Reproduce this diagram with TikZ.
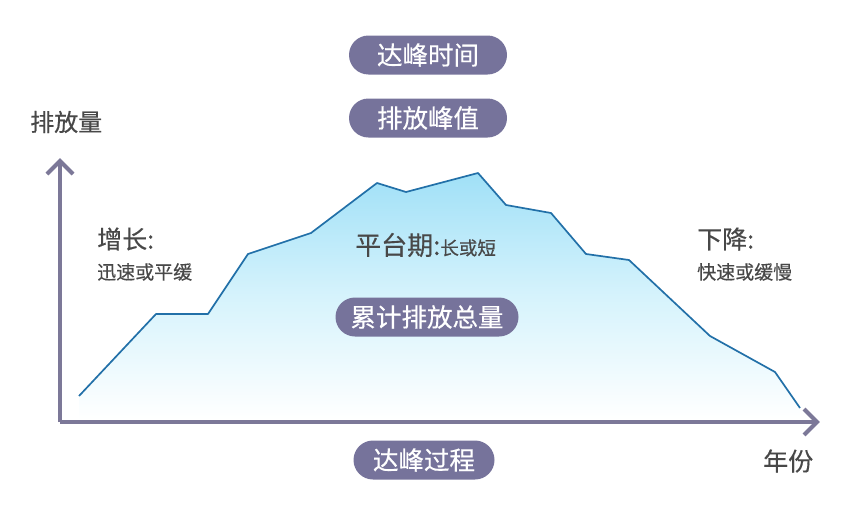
\documentclass[tikz,border=0pt]{standalone}
\usepackage{fontspec}
\setmainfont{Noto Sans CJK SC}[FakeBold=0.4]
\definecolor{pillc}{RGB}{118,115,155}
\definecolor{axisc}{RGB}{124,120,152}
\definecolor{txtc}{RGB}{72,72,72}
\definecolor{linec}{RGB}{34,112,168}
\definecolor{topc}{RGB}{160,224,247}
\definecolor{midc}{RGB}{214,243,252}
\begin{document}
\begin{tikzpicture}[x=1pt,y=-1pt,
  pill/.style={fill=pillc,text=white,rounded corners=19.5pt,minimum height=39pt,inner sep=0pt,font=\fontsize{25.5}{25.5}\selectfont},
  big/.style={text=txtc,inner sep=0pt,anchor=west,font=\fontsize{25}{25}\selectfont},
  small/.style={text=txtc,inner sep=0pt,anchor=west,font=\fontsize{19}{19}\selectfont},
  axisline/.style={draw=axisc,line width=4pt}]
\useasboundingbox (0,0) rectangle (843,525);
% area
\shade[top color=topc,bottom color=white,middle color=midc,draw=none]
  (79,396) -- (156,314) -- (208,314) -- (248,254) -- (311,233) -- (377,183) -- (406,192) -- (478,173) -- (506,205) -- (551,213) -- (586,254) -- (629,260) -- (710,336) -- (775,372) -- (800,408) -- (800,420) -- (79,420) -- cycle;
\draw[linec,line width=1.7pt,line join=round]
  (79,396) -- (156,314) -- (208,314) -- (248,254) -- (311,233) -- (377,183) -- (406,192) -- (478,173) -- (506,205) -- (551,213) -- (586,254) -- (629,260) -- (710,336) -- (775,372) -- (800,408);
% axes
\coordinate (o) at (60,422);
\coordinate (ytip) at (60,161);
\coordinate (xtip) at (817,422);
\draw[axisline] (o) -- (ytip);
\draw[axisline] (o) -- (xtip);
\draw[axisline,line join=miter] (47,174) -- (ytip) -- (73,174);
\draw[axisline,line join=miter] (804,409) -- (xtip) -- (804,435);
% labels
\node[big,font=\fontsize{24}{24}\selectfont] (ylab) at (30,122) {排放量};
\node[big] (xlab) at (763,461) {年份};
\node[big] (grow) at (97,239) {增长:};
\node[small] (growd) at (97,272) {迅速或平缓};
\node[big] (fall) at (697,239) {下降:};
\node[small] (falld) at (697,272) {快速或缓慢};
\node[big,font=\fontsize{26}{26}\selectfont] (plat) at (355,245) {平台期:\fontsize{18.5}{18.5}\selectfont 长或短};
% pills
\node[pill,minimum width=158pt] (p1) at (428,55) {达峰时间};
\node[pill,minimum width=158pt] (p2) at (428,118) {排放峰值};
\node[pill,minimum width=183pt] (p3) at (427,317) {累计排放总量};
\node[pill,minimum width=141pt] (p4) at (424,460) {达峰过程};
\end{tikzpicture}
\end{document}
